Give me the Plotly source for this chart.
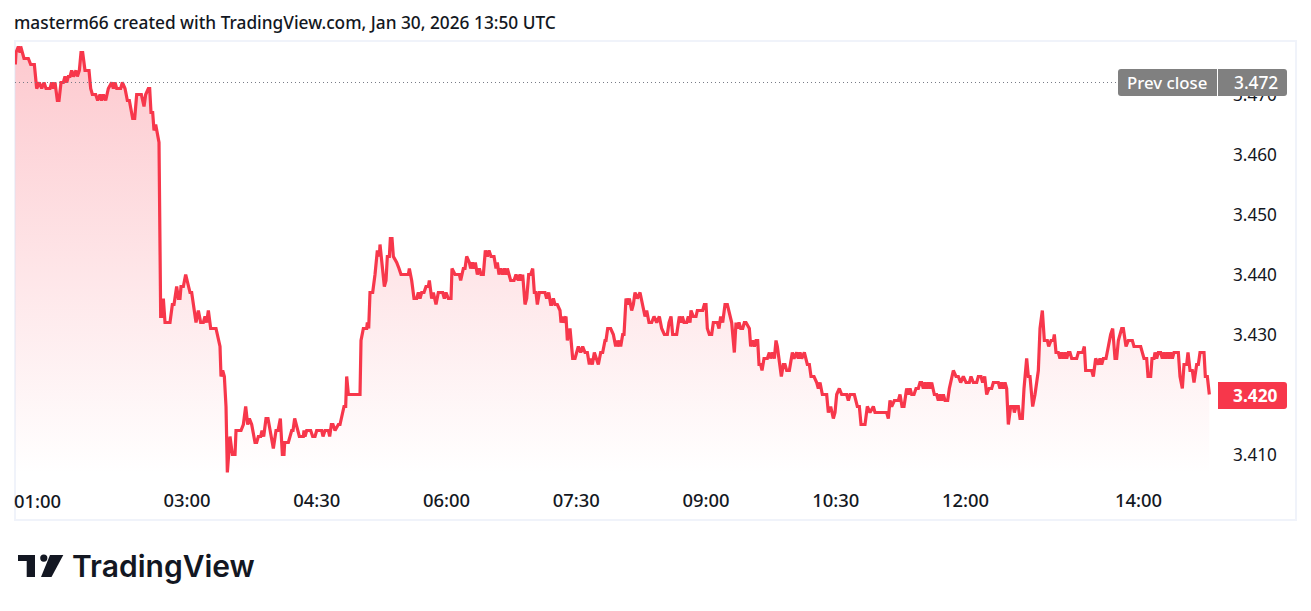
import pandas as pd
import plotly.graph_objects as go

W, H = 1311, 611
PLOT_L, PLOT_R, PLOT_T, PLOT_B = 15, 1226, 42, 480

title_text = "masterm66 created with TradingView.com, Jan 30, 2026 13:50 UTC"
prev_close = 3.472
last_price = 3.420
tick_prices = [3.41, 3.42, 3.43, 3.44, 3.45, 3.46, 3.47]
tick_times = ["03:00", "04:30", "06:00", "07:30", "09:00", "10:30", "12:00", "14:00"]
first_time_label = "01:00"

# time is kept as elapsed steps (one step = 13.873 s) per section of the session
STEP_SECONDS = 13.873
section_start = [-42, 378, 1008, 1818, 2718]

steps_a = [46,48,55,60,62,68,72,85,92,103,
           110,118,125,132,138,150,155,160,165,172,
           177,183,190,195,200,205,210,215,220,228,
           232,238,243,248,255,267,272,277,287,293,
           300,305,310,317,325,335,340,345,350,362,
           367,375,382,388,398,404,410,424,432,437,
           445,449,453,458,462,467,475,477]
prices_a = [3.475,3.477,3.478,3.477,3.478,3.477,3.476,3.476,3.475,3.475,
            3.471,3.472,3.471,3.472,3.471,3.471,3.472,3.471,3.472,3.469,
            3.469,3.472,3.472,3.473,3.472,3.473,3.473,3.474,3.473,3.474,
            3.473,3.474,3.477,3.477,3.474,3.474,3.471,3.470,3.470,3.469,
            3.470,3.469,3.470,3.469,3.471,3.472,3.471,3.472,3.471,3.471,
            3.472,3.471,3.469,3.469,3.466,3.466,3.470,3.470,3.468,3.470,
            3.471,3.471,3.467,3.467,3.464,3.465,3.462,3.462]

steps_b = [62,67,70,75,90,97,102,110,115,120,
           123,130,137,150,155,162,168,175,182,190,
           195,200,205,212,228,240,243,248,253,258,
           262,270,277,285,288,303,310,317,323,328,
           335,345,350,355,362,366,371,378,384,400,
           408,414,421,427,432,434,445,455,459,464,
           478,490,492,495,500,512,518,525,530,545,
           549,555,565,569,574,579,585,595,600,612,
           617,620,625,660]
prices_b = [3.433,3.433,3.436,3.432,3.432,3.435,3.435,3.438,3.436,3.436,
            3.438,3.438,3.440,3.437,3.437,3.434,3.432,3.434,3.432,3.432,
            3.433,3.432,3.434,3.431,3.431,3.428,3.423,3.424,3.423,3.418,
            3.407,3.413,3.410,3.410,3.414,3.414,3.415,3.418,3.415,3.416,
            3.415,3.412,3.412,3.413,3.413,3.414,3.413,3.416,3.416,3.411,
            3.414,3.414,3.416,3.410,3.410,3.412,3.412,3.414,3.414,3.416,
            3.413,3.413,3.414,3.413,3.414,3.414,3.413,3.413,3.414,3.414,
            3.413,3.414,3.414,3.413,3.415,3.415,3.414,3.415,3.415,3.418,
            3.418,3.423,3.420,3.420]

steps_c = [33,40,50,52,56,60,68,75,82,88,
           90,103,108,112,118,121,126,130,140,147,
           153,175,178,185,192,200,205,210,215,222,
           228,235,238,245,250,258,265,278,283,288,
           295,303,306,315,328,332,340,345,350,358,
           362,367,372,376,382,388,393,400,406,412,
           417,423,432,438,442,447,452,458,463,468,
           472,482,492,498,505,510,515,518,525,530,
           536,542,548,553,558,562,568,585,590,596,
           602,605,610,615,622,630,633,638,640,648,
           652,660,668,675,685,692,698,705,712,718,
           722,727,733,745,752,758,765,768,773,782,
           790,797,800,803,808,812,818,822,828,833,
           838,845,850,855,862,870,878,885,890,897]
prices_c = [3.429,3.431,3.431,3.432,3.431,3.437,3.437,3.440,3.444,3.443,
            3.445,3.438,3.439,3.443,3.443,3.446,3.446,3.443,3.442,3.441,
            3.440,3.440,3.441,3.439,3.436,3.436,3.437,3.436,3.437,3.437,
            3.438,3.438,3.439,3.436,3.437,3.435,3.437,3.437,3.436,3.437,
            3.436,3.436,3.441,3.440,3.440,3.439,3.441,3.441,3.443,3.442,
            3.441,3.442,3.441,3.442,3.440,3.441,3.440,3.440,3.444,3.443,
            3.444,3.443,3.443,3.441,3.442,3.440,3.441,3.440,3.441,3.440,
            3.441,3.439,3.439,3.440,3.439,3.440,3.439,3.440,3.435,3.436,
            3.440,3.440,3.441,3.437,3.437,3.435,3.437,3.437,3.436,3.437,
            3.435,3.435,3.436,3.435,3.435,3.434,3.432,3.433,3.432,3.433,
            3.429,3.431,3.426,3.426,3.428,3.427,3.428,3.427,3.427,3.425,
            3.426,3.425,3.427,3.425,3.427,3.427,3.429,3.429,3.431,3.431,
            3.430,3.428,3.429,3.428,3.429,3.428,3.430,3.430,3.436,3.435,
            3.436,3.434,3.435,3.437,3.436,3.437,3.435,3.433,3.434,3.432]

steps_d = [95,102,110,118,125,133,142,147,153,158,
           170,178,183,187,192,200,205,210,213,220,
           228,232,248,253,258,262,268,275,280,292,
           297,302,308,315,322,335,343,348,352,357,
           362,368,373,378,388,392,398,403,408,413,
           417,422,426,432,442,448,452,458,463,468,
           472,478,484,490,495,500,508,517,522,530,
           535,540,545,553,562,568,573,582,590,595,
           600,607,620,625,632,640,645,650,658,665,
           680,685,690,703,712,718,723,735,742,750,
           760,765,800,805,810,815,823,835,840,846,
           852,860,865,870,875,882,888,895,900]
prices_d = [3.432,3.433,3.432,3.433,3.431,3.430,3.430,3.432,3.433,3.430,
            3.430,3.433,3.432,3.433,3.432,3.432,3.433,3.432,3.434,3.433,
            3.433,3.434,3.434,3.435,3.435,3.431,3.430,3.430,3.432,3.432,
            3.431,3.433,3.432,3.435,3.435,3.432,3.427,3.432,3.431,3.432,
            3.431,3.431,3.432,3.432,3.431,3.428,3.429,3.428,3.429,3.429,
            3.425,3.425,3.424,3.426,3.426,3.427,3.426,3.427,3.426,3.429,
            3.428,3.425,3.423,3.425,3.425,3.424,3.424,3.427,3.426,3.427,
            3.426,3.427,3.426,3.427,3.425,3.425,3.423,3.423,3.422,3.421,
            3.422,3.420,3.420,3.417,3.418,3.416,3.417,3.420,3.421,3.420,
            3.420,3.419,3.420,3.420,3.418,3.418,3.415,3.415,3.418,3.417,
            3.418,3.417,3.417,3.416,3.419,3.418,3.419,3.419,3.420,3.418,
            3.418,3.421,3.420,3.421,3.420,3.420,3.421,3.421,3.422]

steps_e = [5,10,15,20,25,30,35,38,43,50,
           55,60,65,70,75,83,88,100,108,115,
           122,130,138,148,153,160,170,175,183,188,
           194,200,207,215,220,235,240,245,250,255,
           260,265,272,280,283,288,295,300,307,312,
           320,325,330,338,345,355,360,367,373,382,
           386,393,400,403,408,415,420,425,430,435,
           440,445,450,455,470,475,488,493,497,515,
           520,527,535,540,545,550,558,565,572,578,
           585,590,595,605,610,618,625,637,642,662,
           668,672,680,684,692,696,702,705,710,715,
           722,727,732,737,742,747,752,757,762,775,
           780,787,792,800,804,810,817,822,830,835,
           840,852,856,862,868]
prices_e = [3.422,3.421,3.422,3.421,3.422,3.421,3.422,3.421,3.420,3.420,
            3.419,3.420,3.419,3.420,3.419,3.419,3.421,3.424,3.423,3.423,
            3.422,3.423,3.422,3.422,3.423,3.422,3.422,3.423,3.423,3.422,
            3.423,3.420,3.421,3.421,3.422,3.422,3.421,3.422,3.421,3.422,
            3.421,3.415,3.418,3.418,3.417,3.418,3.418,3.416,3.416,3.421,
            3.426,3.423,3.423,3.418,3.420,3.424,3.431,3.434,3.429,3.429,
            3.428,3.429,3.429,3.430,3.427,3.427,3.426,3.427,3.426,3.427,
            3.426,3.427,3.427,3.426,3.426,3.427,3.427,3.428,3.424,3.424,
            3.423,3.426,3.425,3.426,3.425,3.426,3.426,3.428,3.430,3.431,
            3.426,3.426,3.429,3.431,3.431,3.428,3.429,3.429,3.428,3.428,
            3.427,3.426,3.426,3.423,3.423,3.426,3.426,3.427,3.426,3.427,
            3.427,3.426,3.427,3.426,3.427,3.426,3.427,3.426,3.427,3.427,
            3.423,3.421,3.425,3.425,3.427,3.424,3.424,3.422,3.425,3.425,
            3.427,3.427,3.423,3.423,3.420]

RED = "#f7374b"
INK = "#131722"
GREY = "#808080"
FRAME = "#f0f3fa"
FONT = "Noto Sans"

session_open = pd.Timestamp("2026-01-30 01:00:00")
sections = [steps_a, steps_b, steps_c, steps_d, steps_e]
times, prices = [], []
for start, sec_steps, sec_prices in zip(section_start, sections,
                                        [prices_a, prices_b, prices_c, prices_d, prices_e]):
    for s, p in zip(sec_steps, sec_prices):
        times.append((session_open + pd.Timedelta(seconds=(start + s) * STEP_SECONDS)).isoformat())
        prices.append(p)


def px(x):
    return (x - PLOT_L) / (PLOT_R - PLOT_L)


def py(y):
    return 1 - (y - PLOT_T) / (PLOT_B - PLOT_T)


def poly(points):
    return "M " + " L ".join(f"{px(x)} {py(y)}" for x, y in points) + " Z"


def rounded(x0, y0, x1, y1, left, right):
    # rectangle in picture pixels with optional rounded corners
    rl, rr = (3 if left else 0), (3 if right else 0)
    d = f"M {px(x0 + rl)} {py(y0)} L {px(x1 - rr)} {py(y0)} "
    if rr:
        d += f"Q {px(x1)} {py(y0)} {px(x1)} {py(y0 + rr)} "
    d += f"L {px(x1)} {py(y1 - rr)} "
    if rr:
        d += f"Q {px(x1)} {py(y1)} {px(x1 - rr)} {py(y1)} "
    d += f"L {px(x0 + rl)} {py(y1)} "
    if rl:
        d += f"Q {px(x0)} {py(y1)} {px(x0)} {py(y1 - rl)} "
    d += f"L {px(x0)} {py(y0 + rl)} "
    if rl:
        d += f"Q {px(x0)} {py(y0)} {px(x0 + rl)} {py(y0)} "
    return d + "Z"


fig = go.Figure()
fig.add_trace(go.Scatter(
    x=times, y=prices, mode="lines",
    line=dict(color=RED, width=3.2, shape="linear"),
    fill="tozeroy",
    fillgradient=dict(
        type="vertical", start=3.4067, stop=3.478,
        colorscale=[[0, "rgba(247,55,75,0)"], [1, "rgba(247,55,75,0.27)"]],
    ),
    hoverinfo="skip", showlegend=False,
))

shapes = [
    dict(type="rect", xref="paper", yref="paper", x0=px(15), x1=px(1296), y0=py(41), y1=py(520),
         line=dict(color=FRAME, width=2), layer="below"),
    dict(type="line", xref="paper", yref="y", x0=px(15), x1=px(1118), y0=prev_close, y1=prev_close,
         line=dict(color="#787b86", width=1, dash="1px,3px"), layer="above"),
    dict(type="path", xref="paper", yref="paper", path=rounded(1118, 69, 1217, 96, True, False),
         fillcolor=GREY, line=dict(width=0), layer="above"),
    dict(type="path", xref="paper", yref="paper", path=rounded(1218, 69, 1287, 96, False, True),
         fillcolor=GREY, line=dict(width=0), layer="above"),
    dict(type="path", xref="paper", yref="paper", path=rounded(1218, 382, 1287, 409, False, True),
         fillcolor=RED, line=dict(width=0), layer="above"),
    # logo mark
    dict(type="path", xref="paper", yref="paper",
         path=poly([(18, 555), (35, 555), (35, 577), (26.7, 577), (26.7, 561), (18, 561)]),
         fillcolor=INK, line=dict(width=0), layer="above"),
    dict(type="circle", xref="paper", yref="paper", x0=px(40.2), x1=px(47.4), y0=py(554.5), y1=py(561.7),
         fillcolor=INK, line=dict(width=0), layer="above"),
    dict(type="path", xref="paper", yref="paper",
         path=poly([(50, 555), (63.3, 555), (51.5, 577), (41, 577)]),
         fillcolor=INK, line=dict(width=0), layer="above"),
]


def label(x, y, text, size=16, color=INK, anchor="left", weight=400, family=FONT):
    return dict(xref="paper", yref="paper", x=px(x), y=py(y), text=text, showarrow=False,
                xanchor=anchor, yanchor="middle", xshift=0, yshift=0,
                font=dict(family=family, size=size, color=color, weight=weight))


annotations = [
    label(12, 22.5, title_text, size=17.3, weight=500),
    label(1167, 82.5, "Prev close", size=16.8, color="white", anchor="center", weight=500),
    label(1255.5, 82.5, f"{prev_close:.3f}", size=17.3, color="white", anchor="center", weight=500),
    label(1255.5, 395.5, f"{last_price:.3f}", size=17.3, color="white", anchor="center", weight=700),
    label(12, 500, first_time_label, size=18.4, weight=500),
    label(70, 566, "TradingView", size=30, weight=600, family="Inter"),
]

fig.update_layout(
    width=W, height=H,
    margin=dict(l=PLOT_L, r=W - PLOT_R, t=PLOT_T, b=H - PLOT_B),
    paper_bgcolor="white", plot_bgcolor="white",
    shapes=shapes, annotations=annotations,
    showlegend=False,
    font=dict(family=FONT, size=16, color=INK),
    xaxis=dict(
        type="date",
        range=["2026-01-30 01:00:41", "2026-01-30 15:00:42"],
        tickmode="array",
        tickvals=[f"2026-01-30 {t}:00" for t in tick_times],
        ticktext=tick_times,
        showgrid=False, zeroline=False, showline=False, ticks="",
        ticklabelstandoff=8, fixedrange=True,
        tickfont=dict(family=FONT, size=18.4, color=INK, weight=500),
    ),
    yaxis=dict(
        side="right",
        range=[3.40575, 3.47875],
        tickmode="array",
        tickvals=tick_prices,
        ticktext=[f"{v:.3f}" for v in tick_prices],
        showgrid=False, zeroline=False, showline=False, ticks="",
        ticklabelstandoff=6, fixedrange=True,
        tickfont=dict(family=FONT, size=17.2, color=INK),
    ),
)

fig.write_html(
    "out.html",
    config={"displayModeBar": False},
    post_script="document.body.style.margin='0';document.body.style.overflow='hidden';",
)
